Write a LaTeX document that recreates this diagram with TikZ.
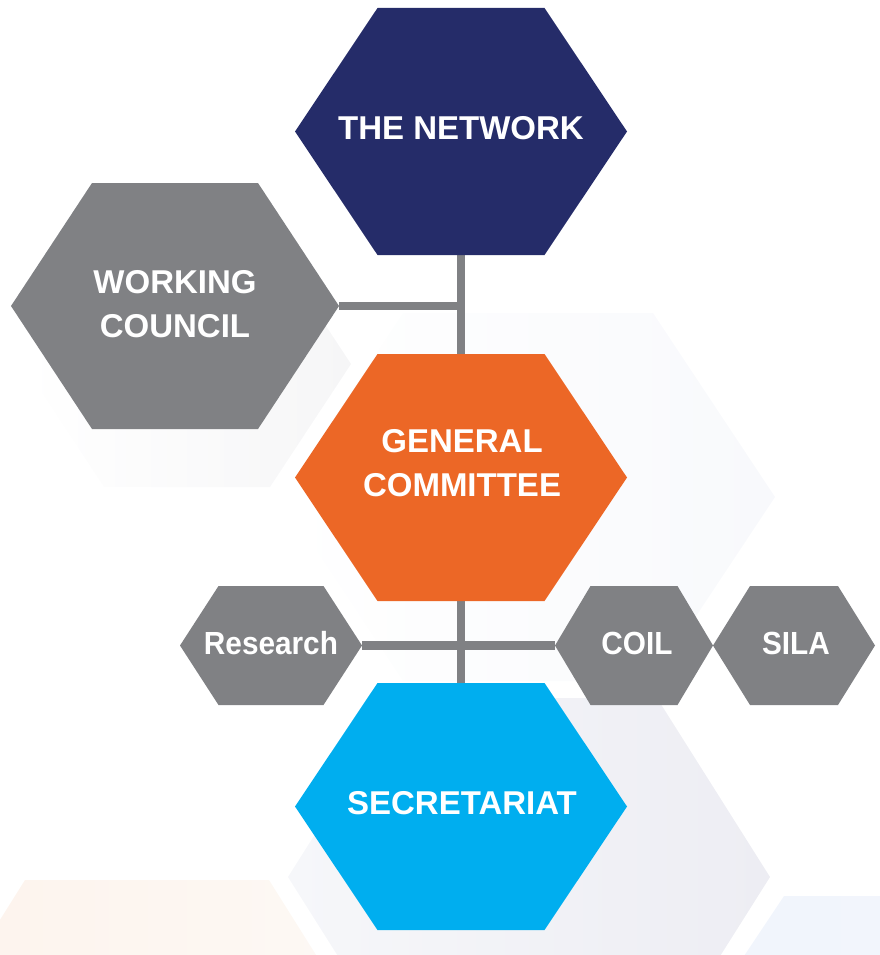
\documentclass[tikz,border=0pt]{standalone}
\usepackage{fontspec}
\setmainfont{Liberation Sans}
\newfontfamily\condf{Liberation Sans}[FakeStretch=0.93]
\definecolor{navyc}{HTML}{252C69}
\definecolor{orangec}{HTML}{EC6726}
\definecolor{bluec}{HTML}{00AEEF}
\definecolor{grayc}{HTML}{808184}
\definecolor{bgaR}{HTML}{F6F6F7}
\definecolor{bgbR}{HTML}{F8F9FC}
\definecolor{bgcL}{HTML}{F6F7FA}
\definecolor{bgcR}{HTML}{EDEDF3}
\definecolor{bgdL}{HTML}{FDF3EC}
\definecolor{bgdR}{HTML}{FDF9F5}
\definecolor{bgeL}{HTML}{F0F4FC}
\definecolor{bgeR}{HTML}{F4F7FC}
% #1 options, #2 name, #3 cx, #4 cy, #5 half width, #6 half height, #7 indent
\newcommand\hexfill[7][]{%
  \path[#1] ({#3-#5},#4) -- ({#3-#5+#7},{#4-#6}) -- ({#3+#5-#7},{#4-#6})
    -- ({#3+#5},#4) -- ({#3+#5-#7},{#4+#6}) -- ({#3-#5+#7},{#4+#6}) -- cycle;
  \coordinate (#2-l) at ({#3-#5},#4);
  \coordinate (#2-r) at ({#3+#5},#4);
  \coordinate (#2-t) at (#3,{#4-#6});
  \coordinate (#2-b) at (#3,{#4+#6});
}
\tikzset{
  conn/.style={draw=grayc, line width=8.5pt},
  biglbl/.style={text=white, inner sep=0pt, align=center,
    font=\bfseries\fontsize{33}{44}\selectfont},
  smalllbl/.style={text=white, inner sep=0pt, align=center,
    font=\condf\bfseries\fontsize{32}{38}\selectfont},
}
\begin{document}
\begin{tikzpicture}[x=1pt,y=-1pt]
\useasboundingbox (0,0) rectangle (880,955);
\begin{scope}
\clip (0,0) rectangle (880,955);
% faint background hexagons
\hexfill[left color=white, right color=bgaR]{bga}{187}{364}{164}{123}{81}
\hexfill[left color=white, right color=bgbR]{bgb}{528}{497}{247}{184}{122}
\hexfill[left color=bgcL, right color=bgcR]{bgc}{529}{877}{241}{179}{113}
\hexfill[left color=bgdL, right color=bgdR]{bgd}{147}{1060}{235}{180}{113}
\hexfill[left color=bgeL, right color=bgeR]{bge}{899}{1076}{235}{180}{120}
\end{scope}
% hexagon geometry (coordinates only, used for connectors)
\hexfill{net}{461}{131.5}{166}{123.5}{82.5}
\hexfill{wc}{175}{306}{164}{123}{81}
\hexfill{gc}{461}{477.5}{166}{123.5}{82.5}
\hexfill{sec}{461}{806.5}{166}{123.5}{82.5}
\hexfill{res}{271}{645.5}{91}{59.5}{38.5}
\hexfill{coil}{634}{645.5}{79}{59.5}{35.5}
\hexfill{sila}{794}{645.5}{81}{59.5}{37}
% connectors
\draw[conn] (net-b) -- (sec-t);
\draw[conn] (wc-r) -- (wc-r -| net-b);
\draw[conn] (res-r) -- (coil-l);
% filled hexagons
\hexfill[fill=navyc]{net}{461}{131.5}{166}{123.5}{82.5}
\hexfill[fill=grayc]{wc}{175}{306}{164}{123}{81}
\hexfill[fill=orangec]{gc}{461}{477.5}{166}{123.5}{82.5}
\hexfill[fill=bluec]{sec}{461}{806.5}{166}{123.5}{82.5}
\hexfill[fill=grayc]{res}{271}{645.5}{91}{59.5}{38.5}
\hexfill[fill=grayc]{coil}{634}{645.5}{79}{59.5}{35.5}
\hexfill[fill=grayc]{sila}{794}{645.5}{81}{59.5}{37}
% labels
\node[biglbl] (netl) at (461,128.5) {THE NETWORK};
\node[biglbl] (wcl) at (175,304) {WORKING\\COUNCIL};
\node[biglbl] (gcl) at (462,463.5) {GENERAL\\COMMITTEE};
\node[biglbl] (secl) at (462,803.5) {SECRETARIAT};
\node[smalllbl] (resl) at (271,643.5) {Research};
\node[smalllbl] (coill) at (637,643.5) {COIL};
\node[smalllbl] (silal) at (796,643.5) {SILA};
\end{tikzpicture}
\end{document}
